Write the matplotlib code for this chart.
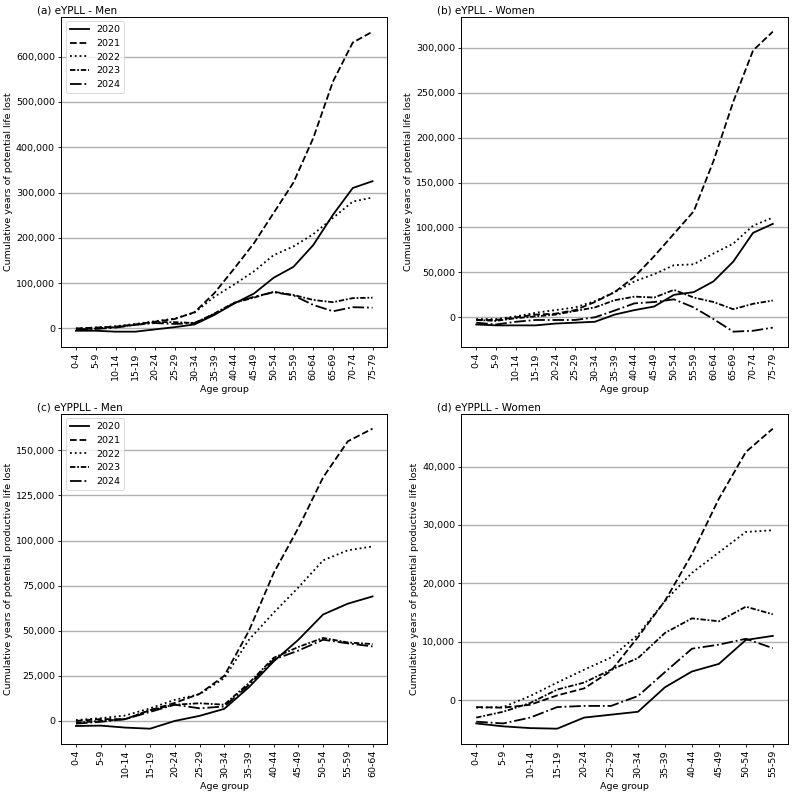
import numpy as np
import matplotlib
matplotlib.use("Agg")
from matplotlib import pyplot as plt
from matplotlib.ticker import FuncFormatter

years = ["2020", "2021", "2022", "2023", "2024"]
ages_yll = ["0-4", "5-9", "10-14", "15-19", "20-24", "25-29", "30-34", "35-39",
            "40-44", "45-49", "50-54", "55-59", "60-64", "65-69", "70-74", "75-79"]
ages_ypll_men = ages_yll[:13]
ages_ypll_women = ages_yll[:12]

# (a) eYPLL - Men
yll_men_2020 = [-5000, -5000, -7000, -7000, -2000, 3000, 9000, 30000, 55000, 77000, 112000, 136000, 184000, 251000, 310000, 325000]
yll_men_2021 = [0, 2000, 4000, 9000, 15000, 21000, 36000, 78000, 132000, 188000, 255000, 322000, 420000, 545000, 631000, 655000]
yll_men_2022 = [0, 2000, 5000, 10000, 16000, 22000, 35000, 70000, 97000, 126000, 162000, 181000, 208000, 244000, 280000, 289000]
yll_men_2023 = [-2000, 0, 3000, 8000, 14000, 14000, 12000, 33000, 57000, 68000, 81000, 74000, 63000, 58000, 67000, 68000]
yll_men_2024 = [-3000, -1000, 2000, 8000, 12000, 10000, 12000, 32000, 56000, 70000, 80000, 73000, 52000, 38000, 47000, 46000]

# (b) eYPLL - Women
yll_women_2020 = [-8000, -9000, -9000, -9000, -7000, -6000, -5000, 3000, 8000, 12000, 25000, 28000, 40000, 62000, 94000, 104000]
yll_women_2021 = [-3000, -3000, 0, 3000, 4000, 8000, 17000, 28000, 45000, 68000, 93000, 118000, 174000, 240000, 297000, 318000]
yll_women_2022 = [-2000, -2000, 1000, 5000, 8000, 11000, 18000, 28000, 40000, 48000, 58000, 59000, 71000, 82000, 102000, 111000]
yll_women_2023 = [-3000, -4000, -1000, 1000, 3000, 7000, 11000, 19000, 23000, 22000, 30500, 22000, 17000, 9000, 15000, 18700]
yll_women_2024 = [-6000, -8000, -5000, -3000, -3000, -3000, 0, 7500, 15500, 17000, 20000, 11000, -2000, -16000, -15000, -11500]

# (c) eYPPLL - Men
ypll_men_2020 = [-2800, -2600, -3700, -4300, 0, 2800, 6700, 18700, 33000, 45000, 59000, 65000, 69000]
ypll_men_2021 = [0, 1000, 1000, 6000, 10000, 15000, 25000, 50000, 82000, 107000, 135000, 155000, 162000]
ypll_men_2022 = [500, 1500, 3000, 7000, 11700, 14800, 23700, 45000, 60000, 74000, 89000, 94600, 96700]
ypll_men_2023 = [-1000, 0, 1000, 6000, 9000, 9800, 9000, 21000, 35000, 41000, 46000, 43500, 42600]
ypll_men_2024 = [-1500, -500, 1000, 5000, 9000, 7000, 8000, 20000, 34000, 39000, 45000, 43000, 41300]

# (d) eYPPLL - Women
ypll_women_2020 = [-4000, -4500, -4800, -4900, -3000, -2500, -2000, 2200, 4900, 6200, 10300, 11000]
ypll_women_2021 = [-1200, -1300, -800, 800, 2000, 5000, 10800, 17000, 25000, 34500, 42500, 46500]
ypll_women_2022 = [-1300, -1200, 700, 3000, 5200, 7300, 11200, 17000, 21800, 25300, 28800, 29100]
ypll_women_2023 = [-3000, -2000, -500, 1800, 3000, 5200, 7200, 11500, 14000, 13500, 16000, 14700]
ypll_women_2024 = [-3700, -4000, -3000, -1200, -1000, -1000, 700, 4800, 8800, 9500, 10500, 8900]

styles = ["-", "--", ":", (0, (3, 1, 1, 1)), "-."]

panels = [
    ("(a) eYPLL - Men", ages_yll, [yll_men_2020, yll_men_2021, yll_men_2022, yll_men_2023, yll_men_2024],
     "Cumulative years of potential life lost", True),
    ("(b) eYPLL - Women", ages_yll, [yll_women_2020, yll_women_2021, yll_women_2022, yll_women_2023, yll_women_2024],
     "Cumulative years of potential life lost", False),
    ("(c) eYPPLL - Men", ages_ypll_men, [ypll_men_2020, ypll_men_2021, ypll_men_2022, ypll_men_2023, ypll_men_2024],
     "Cumulative years of potential productive life lost", True),
    ("(d) eYPPLL - Women", ages_ypll_women, [ypll_women_2020, ypll_women_2021, ypll_women_2022, ypll_women_2023, ypll_women_2024],
     "Cumulative years of potential productive life lost", False),
]

fs = 6.8
fig, axes = plt.subplots(2, 2, figsize=(7.94, 7.92), dpi=100)
plt.subplots_adjust(left=0.077, right=0.992, top=0.979, bottom=0.061, wspace=0.227, hspace=0.203)

for ax, (title, ages, series, ylabel, show_legend) in zip(axes.flat, panels):
    x = np.arange(len(ages))
    for yr, vals, ls in zip(years, series, styles):
        ax.plot(x, vals, color="black", linestyle=ls, linewidth=1.3, label=yr)
    ax.set_xticks(x)
    ax.set_xticklabels(ages, rotation=90)
    ax.tick_params(labelsize=fs, length=2.5, width=0.6, pad=2)
    ax.yaxis.set_major_formatter(FuncFormatter(lambda v, p: f"{v:,.0f}"))
    ax.yaxis.grid(True, color="#b0b0b0", linewidth=1)
    ax.set_axisbelow(True)
    for s in ax.spines.values():
        s.set_linewidth(0.7)
    ax.set_xlabel("Age group", fontsize=fs, labelpad=3)
    ax.set_ylabel(ylabel, fontsize=fs, labelpad=2)
    ax.set_title(title, loc="left", x=-0.075, fontsize=7.5, pad=2)
    if show_legend:
        leg = ax.legend(loc="upper left", fontsize=fs)
        leg.get_frame().set_linewidth(0.6)

plt.savefig("out.png", dpi=100)
